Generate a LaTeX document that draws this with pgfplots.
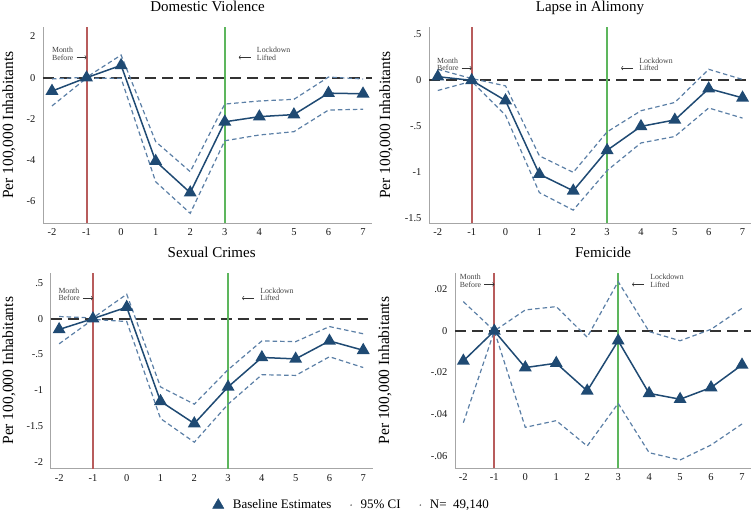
\documentclass[border=0pt]{standalone}
\usepackage{fontspec}
\setmainfont{Liberation Serif}
\usepackage{pgfplots}
\pgfplotsset{compat=1.18}
\usetikzlibrary{arrows.meta}
\definecolor{mainblue}{HTML}{1F4A73}
\definecolor{ciblue}{HTML}{5B7FA6}
\definecolor{redl}{HTML}{B85C5C}
\definecolor{greenl}{HTML}{5DB65D}
\pgfplotsset{
 panel/.style={
  scale only axis,
  axis lines=left,
  axis line style={-, draw=gray!70, line width=0.9pt},
  major tick length=0pt,
  xtick={-2,...,7},
  xticklabels={-2,-1,0,1,2,3,4,5,6,7},
  scaled y ticks=false,
  tick label style={font=\fontsize{10.5}{12}\selectfont, color=black!90},
  yticklabel style={xshift=-4pt},
  xticklabel style={yshift=-2pt},
  title style={yshift=9.5pt, font=\fontsize{15}{18}\selectfont, anchor=base},
  ylabel={Per 100,000 Inhabitants},
  ylabel style={font=\fontsize{15.5}{18}\selectfont, anchor=center},
  clip=false,
 },
 est/.style={color=mainblue, line width=1.5pt, mark=triangle*, mark size=6pt, mark options={fill=mainblue, solid}, forget plot},
 ci/.style={color=ciblue, line width=1.2pt, dash pattern=on 4.5pt off 3pt, forget plot},
 zl/.style={black!80, line width=1.8pt, dash pattern=on 11pt off 6pt, forget plot},
 vr/.style={redl, line width=2pt, forget plot},
 vg/.style={greenl, line width=2pt, forget plot},
}
\newcommand{\annot}[3]{%
 \coordinate (R) at ({axis cs:#1,0} |- {rel axis cs:0,#3});
 \node[font=\fontsize{7.8}{7.8}\selectfont, anchor=east, align=left, inner sep=0pt, text=black!75] at ([xshift=-13pt]R) {Month\\Before};
 \draw[-{To[length=2pt]}, line width=0.5pt, black!80] ([xshift=-10pt,yshift=-3.9pt]R) -- ([yshift=-3.9pt]R);
 \coordinate (G) at ({axis cs:#2,0} |- {rel axis cs:0,#3});
 \node[font=\fontsize{7.8}{7.8}\selectfont, anchor=west, align=left, inner sep=0pt, text=black!75] at ([xshift=32pt]G) {Lockdown\\Lifted};
 \draw[-{To[length=2pt]}, line width=0.5pt, black!80] ([xshift=26pt,yshift=-3.9pt]G) -- ([xshift=14pt,yshift=-3.9pt]G);
}
\begin{document}
\begin{tikzpicture}
\useasboundingbox (0,0) rectangle (752pt,520pt);
% Panel 1
\begin{axis}[panel, at={(43pt,297pt)}, anchor=south west, width=329pt, height=196pt,
  xmin=-2.26, xmax=7.26, ymin=-7.05, ymax=2.46,
  ytick={-6,-4,-2,0,2}, yticklabels={-6,-4,-2,0,2},
  title={Domestic Violence},
  ylabel style={at={(axis description cs:-0.1033,0.5)}}]
\addplot[zl] coordinates {(-2.26,0) (7.26,0)};
\addplot[vr] coordinates {(-1,-7.05) (-1,2.46)};
\addplot[vg] coordinates {(3,-7.05) (3,2.46)};
\addplot[ci] coordinates {(-2,-0.06) (-1,0.02) (0,1.1) (1,-3.1) (2,-4.56) (3,-1.28) (4,-1.13) (5,-1.05) (6,0.03) (7,-0.06)};
\addplot[ci] coordinates {(-2,-1.37) (-1,-0.02) (0,-0.03) (1,-5.05) (2,-6.58) (3,-3.06) (4,-2.78) (5,-2.62) (6,-1.57) (7,-1.53)};
\addplot[est] coordinates {(-2,-0.65) (-1,0) (0,0.6) (1,-4.05) (2,-5.58) (3,-2.14) (4,-1.89) (5,-1.79) (6,-0.75) (7,-0.78)};
\annot{-1}{3}{0.865}
\end{axis}
% Panel 2
\begin{axis}[panel, at={(429pt,297pt)}, anchor=south west, width=322pt, height=196pt,
  xmin=-2.26, xmax=7.25, ymin=-1.55, ymax=0.58,
  ytick={-1.5,-1,-0.5,0,0.5}, yticklabels={-1.5,-1,-.5,0,.5},
  title={Lapse in Alimony},
  ylabel style={at={(axis description cs:-0.1335,0.5)}}]
\addplot[zl] coordinates {(-2.26,0) (7.25,0)};
\addplot[vr] coordinates {(-1,-1.55) (-1,0.58)};
\addplot[vg] coordinates {(3,-1.55) (3,0.58)};
\addplot[ci] coordinates {(-2,0.12) (-1,0.02) (0,-0.06) (1,-0.82) (2,-1.0) (3,-0.56) (4,-0.33) (5,-0.24) (6,0.12) (7,0.01)};
\addplot[ci] coordinates {(-2,-0.11) (-1,-0.01) (0,-0.38) (1,-1.22) (2,-1.41) (3,-0.98) (4,-0.68) (5,-0.61) (6,-0.3) (7,-0.41)};
\addplot[est] coordinates {(-2,0.04) (-1,0) (0,-0.22) (1,-1.02) (2,-1.2) (3,-0.76) (4,-0.5) (5,-0.43) (6,-0.09) (7,-0.19)};
\annot{-1}{3}{0.81}
\end{axis}
% Panel 3
\begin{axis}[panel, at={(50.7pt,51.2pt)}, anchor=south west, width=322pt, height=196.1pt,
  xmin=-2.25, xmax=7.28, ymin=-2.09, ymax=0.64,
  ytick={-2,-1.5,-1,-0.5,0,0.5}, yticklabels={-2,-1.5,-1,-.5,0,.5},
  title={Sexual Crimes},
  ylabel style={at={(axis description cs:-0.1295,0.5)}},
  legend columns=3,
  legend style={draw=none, fill=none, at={(0.935,-0.185)}, anchor=center, font=\fontsize{13}{15}\selectfont,
    /tikz/every odd column/.append style={column sep=7pt},
    /tikz/every even column/.append style={column sep=17pt}}]
\addplot[zl] coordinates {(-2.25,0) (7.28,0)};
\addplot[vr] coordinates {(-1,-2.09) (-1,0.64)};
\addplot[vg] coordinates {(3,-2.09) (3,0.64)};
\addplot[ci] coordinates {(-2,0.03) (-1,0.01) (0,0.34) (1,-0.95) (2,-1.19) (3,-0.71) (4,-0.31) (5,-0.32) (6,-0.11) (7,-0.21)};
\addplot[ci] coordinates {(-2,-0.35) (-1,-0.01) (0,-0.04) (1,-1.39) (2,-1.72) (3,-1.19) (4,-0.78) (5,-0.79) (6,-0.53) (7,-0.68)};
\addplot[est] coordinates {(-2,-0.15) (-1,0) (0,0.16) (1,-1.15) (2,-1.46) (3,-0.95) (4,-0.54) (5,-0.56) (6,-0.31) (7,-0.44)};
\annot{-1}{3}{0.89}
\addlegendimage{only marks, mark=triangle*, mark size=6.5pt, color=mainblue}
\addlegendentry{Baseline Estimates}
\addlegendimage{only marks, mark=*, mark size=0.6pt, color=gray}
\addlegendentry{95\% CI}
\addlegendimage{only marks, mark=*, mark size=0.6pt, color=gray}
\addlegendentry{N=\ \ 49,140}
\end{axis}
% Panel 4
\begin{axis}[panel, at={(455pt,51.7pt)}, anchor=south west, width=296pt, height=195.6pt,
  xmin=-2.27, xmax=7.29, ymin=-0.066, ymax=0.028,
  ytick={-0.06,-0.04,-0.02,0,0.02}, yticklabels={-.06,-.04,-.02,0,.02},
  title={Femicide},
  ylabel style={at={(axis description cs:-0.2365,0.5)}}]
\addplot[zl] coordinates {(-2.27,0) (7.29,0)};
\addplot[vr] coordinates {(-1,-0.066) (-1,0.028)};
\addplot[vg] coordinates {(3,-0.066) (3,0.028)};
\addplot[ci] coordinates {(-2,0.0141) (-1,0) (0,0.0101) (1,0.0117) (2,-0.003) (3,0.0237) (4,-0.0003) (5,-0.0047) (6,0.0008) (7,0.0109)};
\addplot[ci] coordinates {(-2,-0.0441) (-1,0) (0,-0.0463) (1,-0.0431) (2,-0.0553) (3,-0.0348) (4,-0.0585) (5,-0.062) (6,-0.0548) (7,-0.0447)};
\addplot[est] coordinates {(-2,-0.0144) (-1,0) (0,-0.0176) (1,-0.0155) (2,-0.0288) (3,-0.0047) (4,-0.030) (5,-0.0328) (6,-0.0272) (7,-0.0163)};
\annot{-1}{3}{0.96}
\end{axis}
\end{tikzpicture}
\end{document}
